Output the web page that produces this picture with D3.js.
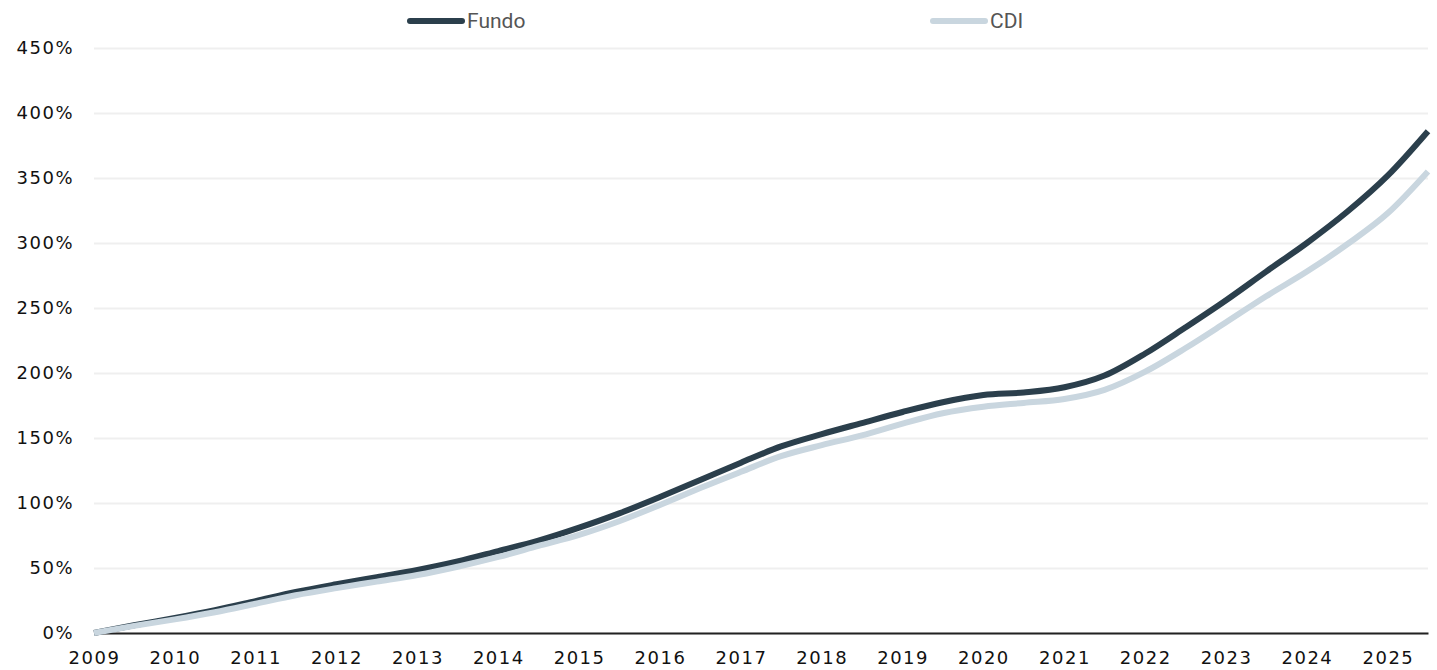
<!DOCTYPE html>
<html>
<head>
<meta charset="utf-8">
<script src="https://cdn.jsdelivr.net/npm/d3@7"></script>
<style>
  body { margin: 0; background: #fff; }
  svg { display: block; }
</style>
</head>
<body>
<div id="chart"></div>
<script>
// semiannual points (cumulative return, %)
const periods = ["2009-01", "2009-07", "2010-01", "2010-07", "2011-01", "2011-07", "2012-01", "2012-07",
    "2013-01", "2013-07", "2014-01", "2014-07", "2015-01", "2015-07", "2016-01", "2016-07",
    "2017-01", "2017-07", "2018-01", "2018-07", "2019-01", "2019-07", "2020-01", "2020-07",
    "2021-01", "2021-07", "2022-01", "2022-07", "2023-01", "2023-07", "2024-01", "2024-07",
    "2025-01", "2025-07"];
const fundo = [0, 6, 11.5, 17.5, 24.5, 31.5, 37.5, 43, 48.5, 55, 63, 71, 81, 92, 104.6, 117.7,
    131, 143.5, 153, 161.5, 170, 177.5, 183, 185, 189, 198, 215, 235, 256, 278, 300, 324, 352, 386];
const cdi = [0, 5.5, 10.5, 16, 22.5, 29, 34.5, 39.5, 44.6, 51, 58.5, 67, 75.5, 86, 98.5, 111.5,
    124, 136, 144.5, 152, 161, 169, 174, 177, 180, 187, 201, 219, 239, 259, 278, 299, 323, 355];
const seriesNames = ["Fundo", "CDI"];
const seriesColors = ["#2b3f4c", "#c9d6df"];
const yTicks = [0, 50, 100, 150, 200, 250, 300, 350, 400, 450];
const xTickYears = d3.range(2009, 2026);

const W = 1437, H = 670;
const margin = {top: 48, right: 9, bottom: 37, left: 94};
const width = W - margin.left - margin.right,
    height = H - margin.top - margin.bottom;

const parse = d3.timeParse("%Y-%m");
const dates = periods.map(parse);

const svg = d3.select("#chart").append("svg")
    .attr("width", W).attr("height", H);

const g = svg.append("g")
    .attr("transform", "translate(" + margin.left + "," + margin.top + ")");

const x = d3.scaleTime()
    .domain(d3.extent(dates))
    .range([0, width]);
const y = d3.scaleLinear()
    .domain([0, 450])
    .range([height, 0]);

const axisFont = "DejaVu Sans, sans-serif";

// gridlines + y labels
const yAxis = g.append("g")
    .call(d3.axisLeft(y).tickValues(yTicks).tickSize(-width).tickPadding(20)
        .tickFormat(d => d + "%"));
yAxis.select(".domain").remove();
yAxis.selectAll(".tick line").attr("stroke", "#efefef").attr("stroke-width", 2);
yAxis.selectAll(".tick text")
    .attr("fill", "#111")
    .style("font-family", axisFont)
    .style("font-size", "18px")
    .style("letter-spacing", "1.5px");

// x axis
const xAxis = g.append("g")
    .attr("transform", "translate(0," + height + ")")
    .call(d3.axisBottom(x).tickValues(xTickYears.map(yr => new Date(yr, 0, 1)))
        .tickSize(0).tickPadding(18).tickFormat(d3.timeFormat("%Y")));
xAxis.select(".domain").attr("stroke", "#222").attr("stroke-width", 2);
xAxis.selectAll(".tick text")
    .attr("fill", "#111")
    .style("font-family", axisFont)
    .style("font-size", "18px")
    .style("letter-spacing", "1.5px");

// lines
const line = d3.line()
    .x((d, i) => x(dates[i]))
    .y(d => y(d))
    .curve(d3.curveMonotoneX);

[fundo, cdi].forEach((vals, i) => {
    g.append("path")
        .datum(vals)
        .attr("fill", "none")
        .attr("stroke", seriesColors[i])
        .attr("stroke-width", 6)
        .attr("stroke-linejoin", "round")
        .attr("stroke-linecap", "butt")
        .attr("d", line);
});

// legend
const legendX = [410, 933];
seriesNames.forEach((name, i) => {
    const lg = svg.append("g").attr("transform", "translate(" + legendX[i] + ",21)");
    lg.append("line")
        .attr("x1", 0).attr("x2", 52)
        .attr("stroke", seriesColors[i])
        .attr("stroke-width", 6)
        .attr("stroke-linecap", "round");
    lg.append("text")
        .attr("x", 57).attr("y", 7)
        .attr("fill", "#555")
        .style("font-family", "Roboto, sans-serif")
        .style("font-size", "21px")
        .text(name);
});
</script>
</body>
</html>
